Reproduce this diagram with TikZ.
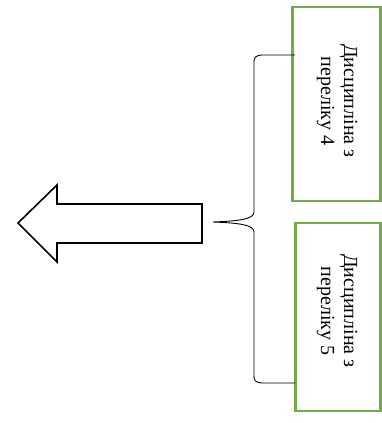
\documentclass[tikz,border=0pt]{standalone}
\usepackage{fontspec}
\setmainfont{Liberation Serif}
\definecolor{boxgreen}{HTML}{70AD47}
\begin{document}
\begin{tikzpicture}[x=1pt,y=-1pt,
  gbox/.style={draw=boxgreen,line width=2.6pt,fill=white},
  vtext/.style={rotate=-90,align=center,font=\fontsize{20}{23}\selectfont},
  outl/.style={draw=black,line width=1.6pt,line join=miter},
  brc/.style={draw=black,line width=0.9pt}]
\useasboundingbox (0,0) rectangle (382,423);
% boxes
\path[gbox] (292.5,7) rectangle (380.5,201);
\path[gbox] (295.5,223) rectangle (380.5,411);
\node[vtext] (t1) at (337,101) {Дисципліна з\\переліку 4};
\node[vtext] (t2) at (337,311) {Дисципліна з\\переліку 5};
% brace
\coordinate (btop) at (295,55);
\coordinate (bbot) at (295,383);
\coordinate (btip) at (213,222);
\draw[brc] (btop) -- (262,55) .. controls (255,55.5) and (254,58) .. (254,62)
  -- (254,212) .. controls (254,219) and (240,221) .. (btip)
  .. controls (240,223) and (254,225) .. (254,232)
  -- (254,376) .. controls (254,380) and (255,382.5) .. (262,383) -- (bbot);
% arrow
\path[outl] (202,204) -- (57,204) -- (57,185) -- (18,223) -- (57,262) -- (57,243) -- (202,243) -- cycle;
\end{tikzpicture}
\end{document}
